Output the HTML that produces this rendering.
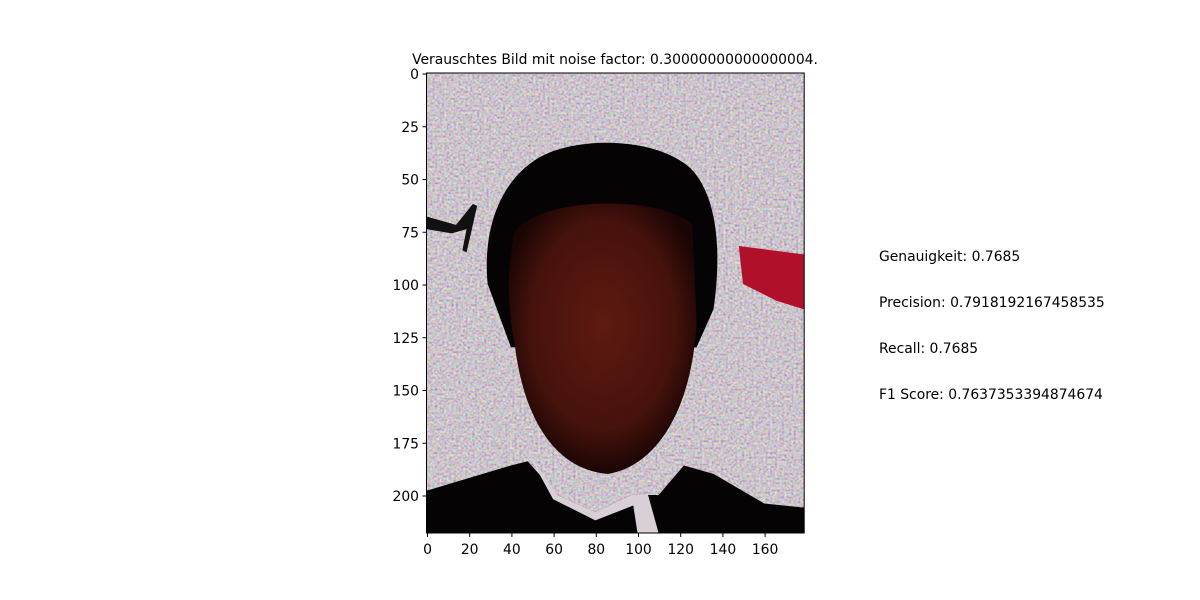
<!DOCTYPE html>
<html><head><meta charset="utf-8"><style>
body{margin:0;background:#fff;}
svg{display:block;font-family:"DejaVu Sans","Liberation Sans",sans-serif;}
</style></head><body>
<svg width="1200" height="600" viewBox="0 0 1200 600">
<defs>
<filter id="noise" x="0" y="0" width="100%" height="100%">
<feTurbulence type="fractalNoise" baseFrequency="0.9" numOctaves="1" seed="3" result="t"/>
<feColorMatrix in="t" type="matrix" values="1.8 0 0 0 -0.2  0 1.8 0 0 -0.25  0 0 1.8 0 -0.2  0 0 0 0 1" result="c"/>
<feComposite in="c" in2="SourceGraphic" operator="in"/>
</filter>
<radialGradient id="faceg" cx="0.5" cy="0.45" r="0.55">
<stop offset="0" stop-color="#5e1a10"/><stop offset="0.7" stop-color="#46120c"/><stop offset="1" stop-color="#1a0504"/>
</radialGradient>
<clipPath id="clip"><rect x="0" y="0" width="179" height="218"/></clipPath>
</defs>
<text x="615" y="64" font-size="13.9" text-anchor="middle">Verauschtes Bild mit noise factor: 0.30000000000000004.</text>
<g transform="translate(426.5,73) scale(2.11)" clip-path="url(#clip)">
<rect x="0" y="0" width="179" height="218" fill="#b9b0b8"/>
<rect x="0" y="0" width="179" height="218" fill="#fff" filter="url(#noise)" opacity="0.6"/>
<path d="M0,68 L14,72 L22,62 L24,63 L19,85 L17,84 L19,74 L12,76 L0,74 Z" fill="#111"/>
<path d="M148,82 L179,86 L179,112 L166,108 L150,100 Z" fill="#b0102a"/>
<path d="M29,100 C26,70 38,45 60,37 C80,30 110,32 125,45 C138,58 140,85 136,112 L128,130 L40,130 Z" fill="#050303"/>
<path d="M42,75 C55,58 112,58 126,72 L128,118 C126,158 110,186 86,190 C60,188 46,162 42,130 C38,110 38,90 42,75 Z" fill="url(#faceg)"/>
<path d="M0,198 L40,186 L48,184 L62,200 L80,208 L97,200 L110,200 L122,186 L136,190 L160,204 L179,206 L179,218 L0,218 Z" fill="#050303"/>
<path d="M48,180 L62,200 L80,208 L97,200 L105,200 L110,218 L100,218 L98,205 L80,212 L60,202 Z" fill="#d8d0d6"/>
</g>
<rect x="426.5" y="73" width="377.7" height="460" fill="none" stroke="#000" stroke-width="1"/>
<g id="xt" font-size="13.9" text-anchor="middle"></g>
<g id="yt" font-size="13.9" text-anchor="end"></g>
<g font-size="13.9">
<text x="879" y="261">Genauigkeit: 0.7685</text>
<text x="879" y="307">Precision: 0.7918192167458535</text>
<text x="879" y="353">Recall: 0.7685</text>
<text x="879" y="399">F1 Score: 0.7637353394874674</text>
</g>
</svg>
<script>
const xTicks=[0,20,40,60,80,100,120,140,160];
const yTicks=[0,25,50,75,100,125,150,175,200];
const ns="http://www.w3.org/2000/svg";
const sx=v=>427.5+v*2.11, sy=v=>74+v*2.11;
const xg=document.getElementById('xt'), yg=document.getElementById('yt');
xTicks.forEach(v=>{
 const l=document.createElementNS(ns,'line');
 l.setAttribute('x1',sx(v));l.setAttribute('x2',sx(v));l.setAttribute('y1',533);l.setAttribute('y2',537);l.setAttribute('stroke','#000');
 
 
 xg.appendChild(l);
 const t=document.createElementNS(ns,'text');
 t.setAttribute('x',sx(v));t.setAttribute('y',554);t.textContent=v;
 
 
 xg.appendChild(t);
});
yTicks.forEach(v=>{
 const l=document.createElementNS(ns,'line');
 l.setAttribute('x1',422.5);l.setAttribute('x2',426.5);l.setAttribute('y1',sy(v));l.setAttribute('y2',sy(v));l.setAttribute('stroke','#000');
 
 
 yg.appendChild(l);
 const t=document.createElementNS(ns,'text');
 t.setAttribute('x',419);t.setAttribute('y',sy(v)+5);t.textContent=v;
 
 
 yg.appendChild(t);
});
</script>
</body></html>
